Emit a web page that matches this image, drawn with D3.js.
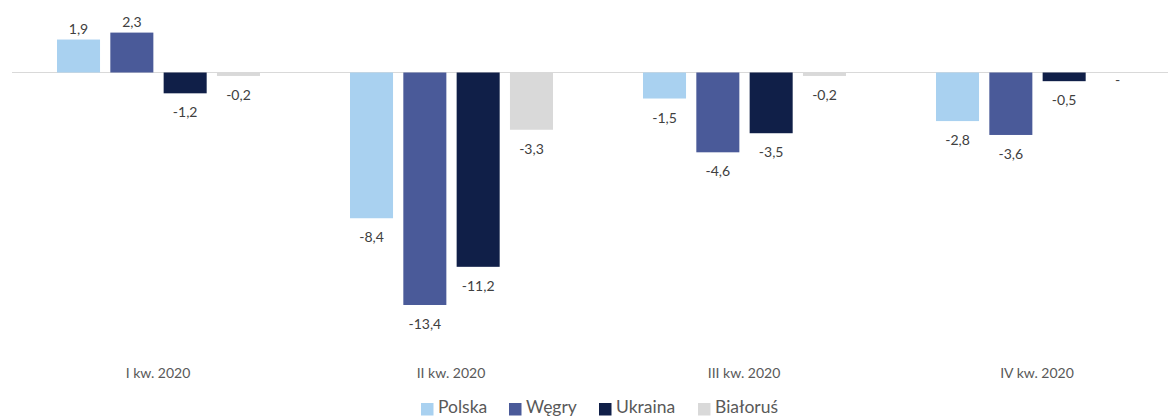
<!DOCTYPE html>
<meta charset="utf-8">
<style>
  body { margin: 0; background: #fff; }
  svg text { font-family: Lato, "Open Sans", sans-serif; }
  .val { font-size: 14px; fill: #404040; text-anchor: middle; }
  .cat { font-size: 14px; fill: #595959; text-anchor: middle; }
  .leg { font-size: 17.5px; fill: #595959; }
</style>
<body>
<script src="https://d3js.org/d3.v7.min.js"></script>
<svg id="chart" width="1168" height="416"></svg>
<script>
  // chart data
  var quarters = ['I kw. 2020', 'II kw. 2020', 'III kw. 2020', 'IV kw. 2020'];
  var countries = ['Polska', 'Węgry', 'Ukraina', 'Białoruś'];
  var colors = ['#a9d1f0', '#4a5a99', '#101f48', '#d9d9d9'];
  var polska   = [1.9, -8.4, -1.5, -2.8];
  var wegry    = [2.3, -13.4, -4.6, -3.6];
  var ukraina  = [-1.2, -11.2, -3.5, -0.5];
  var bialorus = [-0.2, -3.3, -0.2, 0];

  var series = [polska, wegry, ukraina, bialorus];
  var fmt = function(v){ return v === 0 ? '-' : String(v).replace('.', ','); };

  var svg = d3.select('#chart');

  var x0 = d3.scaleBand().domain(quarters).range([11.5, 1183.5]);
  var x1 = d3.scaleBand().domain(countries).range([45.5, 248.5]).paddingInner(0.193);
  var y = d3.scaleLinear().domain([-14, 4]).range([315.4, 3.1]);

  // zero line
  svg.append('line')
    .attr('x1', 12).attr('x2', 1168)
    .attr('y1', y(0)).attr('y2', y(0))
    .attr('stroke', '#d9d9d9').attr('stroke-width', 1);

  var groups = svg.selectAll('g.grp')
    .data(quarters)
    .enter().append('g')
      .attr('class', 'grp')
      .attr('transform', function(d){ return 'translate(' + x0(d) + ',0)'; });

  groups.each(function(q, qi){
    var g = d3.select(this);
    countries.forEach(function(c, ci){
      var v = series[ci][qi];
      g.append('rect')
        .attr('x', x1(c))
        .attr('width', x1.bandwidth())
        .attr('y', Math.min(y(v), y(0)))
        .attr('height', Math.abs(y(v) - y(0)))
        .attr('fill', colors[ci]);
      g.append('text')
        .attr('class', 'val')
        .attr('x', x1(c) + x1.bandwidth() / 2)
        .attr('y', v > 0 ? y(v) - 6 : (v === 0 ? y(v) + 12 : y(v) + 24))
        .text(fmt(v));
    });
  });

  // category labels
  svg.selectAll('text.cat')
    .data(quarters)
    .enter().append('text')
      .attr('class', 'cat')
      .attr('x', function(d){ return x0(d) + x0.bandwidth() / 2; })
      .attr('y', 378)
      .text(function(d){ return d; });

  // legend
  var legX = [421, 509, 599, 698];
  var leg = svg.selectAll('g.leg')
    .data(countries)
    .enter().append('g')
      .attr('transform', function(d, i){ return 'translate(' + legX[i] + ',403)'; });
  leg.append('rect')
    .attr('width', 12.5).attr('height', 12.5)
    .attr('fill', function(d, i){ return colors[i]; });
  leg.append('text')
    .attr('class', 'leg')
    .attr('x', 17).attr('y', 9.5)
    .text(function(d){ return d; });
</script>
</body>
